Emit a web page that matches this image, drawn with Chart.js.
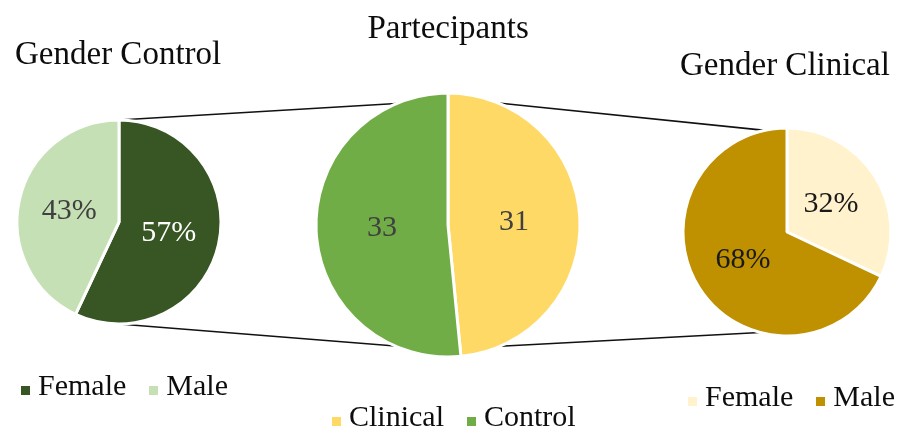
<!DOCTYPE html>
<html>
<head>
<meta charset="utf-8">
<script src="https://cdn.jsdelivr.net/npm/chart.js@4/dist/chart.umd.min.js"></script>
<style>
  html, body { margin: 0; padding: 0; background: #fff; }
  #stage {
    position: relative; width: 897px; height: 428px; overflow: hidden;
    font-family: "Liberation Serif", "Times New Roman", serif; color: #0d0d0d;
  }
  #links { position: absolute; left: 0; top: 0; }
  .pie { position: absolute; }
  .title { position: absolute; font-size: 33px; line-height: 1; white-space: nowrap; }
  .legend { position: absolute; display: flex; align-items: baseline; font-size: 30px; line-height: 1; white-space: nowrap; }
  .legend .item { display: flex; align-items: baseline; margin-right: 23px; }
  .legend .item:last-child { margin-right: 0; }
  .legend .sw { display: inline-block; width: 9px; height: 9px; margin-right: 8px; }
</style>
</head>
<body>
<div id="stage">
  <canvas id="links" width="897" height="428"></canvas>
</div>
<script>
// ---- data ----
const controlGenderLabels = ['Female', 'Male'];
const controlGenderValues = [57, 43];

const participantLabels = ['Clinical', 'Control'];
const participantValues = [31, 33];

const clinicalGenderLabels = ['Female', 'Male'];
const clinicalGenderValues = [32, 68];

// ---- look & layout ----
const panels = [
  {
    title: 'Gender Control', labels: controlGenderLabels, values: controlGenderValues, suffix: '%',
    colors: ['#375623', '#C5E0B4'], textColors: ['#ffffff', '#404040'],
    cx: 119, cy: 222, r: 102,
    titlePos: { left: 15, top: 37 }, legendPos: { left: 21, top: 370 }
  },
  {
    title: 'Partecipants', labels: participantLabels, values: participantValues, suffix: '',
    colors: ['#FFD966', '#70AD47'], textColors: ['#404040', '#404040'],
    cx: 448, cy: 225, r: 132,
    titlePos: { center: 448, top: 11 }, legendPos: { left: 332, top: 401 }
  },
  {
    title: 'Gender Clinical', labels: clinicalGenderLabels, values: clinicalGenderValues, suffix: '%',
    colors: ['#FFF2CC', '#BF9000'], textColors: ['#1a1a1a', '#1a1a1a'],
    cx: 787, cy: 232, r: 104,
    titlePos: { left: 680, top: 48 }, legendPos: { left: 688, top: 381 }
  }
];

// connector lines: [panel, angle (deg, clockwise from 12 o'clock)] -> [panel, angle]
const connectors = [
  [[0, 0], [1, -23]],
  [[0, 180], [1, 203.6]],
  [[1, 22.4], [2, -12.2]],
  [[1, 156.7], [2, 195]]
];

const stage = document.getElementById('stage');

// value labels drawn inside each slice, halfway out along the slice's mid-angle
const sliceLabels = {
  id: 'sliceLabels',
  afterDatasetsDraw(chart, args, opts) {
    const ctx = chart.ctx;
    const ds = chart.data.datasets[0];
    chart.getDatasetMeta(0).data.forEach((arc, i) => {
      const c = arc.getCenterPoint();
      ctx.save();
      ctx.font = '30px "Liberation Serif", "Times New Roman", serif';
      ctx.fillStyle = opts.colors[i];
      ctx.textAlign = 'center';
      ctx.textBaseline = 'middle';
      ctx.fillText(ds.data[i] + opts.suffix, c.x, c.y);
      ctx.restore();
    });
  }
};

const charts = panels.map((pn) => {
  const size = 2 * pn.r + 16;
  const canvas = document.createElement('canvas');
  canvas.className = 'pie';
  canvas.width = size; canvas.height = size;
  canvas.style.left = (pn.cx - size / 2) + 'px';
  canvas.style.top = (pn.cy - size / 2) + 'px';
  canvas.style.width = size + 'px'; canvas.style.height = size + 'px';
  stage.appendChild(canvas);

  // title
  const t = document.createElement('div');
  t.className = 'title';
  t.textContent = pn.title;
  t.style.top = pn.titlePos.top + 'px';
  stage.appendChild(t);
  if (pn.titlePos.center !== undefined) {
    t.style.left = (pn.titlePos.center - t.offsetWidth / 2) + 'px';
  } else {
    t.style.left = pn.titlePos.left + 'px';
  }

  // legend
  const lg = document.createElement('div');
  lg.className = 'legend';
  lg.style.left = pn.legendPos.left + 'px';
  lg.style.top = pn.legendPos.top + 'px';
  pn.labels.forEach((lab, i) => {
    const it = document.createElement('span');
    it.className = 'item';
    const sw = document.createElement('span');
    sw.className = 'sw';
    sw.style.background = pn.colors[i];
    it.appendChild(sw);
    it.appendChild(document.createTextNode(lab));
    lg.appendChild(it);
  });
  stage.appendChild(lg);

  return new Chart(canvas, {
    type: 'pie',
    data: {
      labels: pn.labels,
      datasets: [{
        data: pn.values,
        backgroundColor: pn.colors,
        borderColor: '#ffffff',
        borderWidth: 3,
        radius: pn.r
      }]
    },
    options: {
      responsive: false,
      animation: false,
      events: [],
      layout: { padding: 0 },
      plugins: {
        legend: { display: false },
        title: { display: false },
        tooltip: { enabled: false },
        sliceLabels: { colors: pn.textColors, suffix: pn.suffix }
      }
    },
    plugins: [sliceLabels]
  });
});

// connector lines, attached to the rim of each pie
function rimPoint(idx, deg) {
  const chart = charts[idx];
  const arc = chart.getDatasetMeta(0).data[0];
  const cv = chart.canvas;
  const cx = cv.offsetLeft + arc.x;
  const cy = cv.offsetTop + arc.y;
  const r = arc.outerRadius;
  const a = deg * Math.PI / 180;
  return [cx + r * Math.sin(a), cy - r * Math.cos(a)];
}
const lctx = document.getElementById('links').getContext('2d');
lctx.strokeStyle = '#111111';
lctx.lineWidth = 1.6;
connectors.forEach(([a, b]) => {
  const p = rimPoint(a[0], a[1]);
  const q = rimPoint(b[0], b[1]);
  lctx.beginPath();
  lctx.moveTo(p[0], p[1]);
  lctx.lineTo(q[0], q[1]);
  lctx.stroke();
});
</script>
</body>
</html>
